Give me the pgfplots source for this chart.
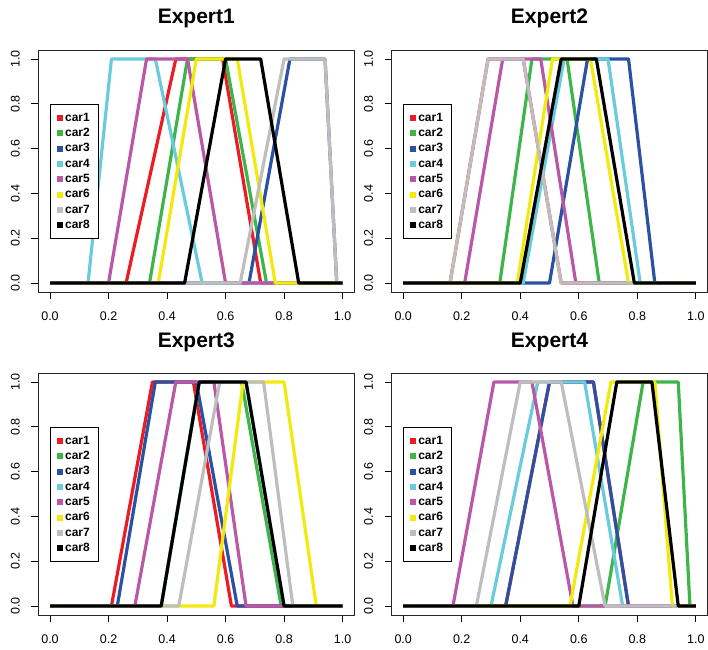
\documentclass[border=0pt]{standalone}
\usepackage{fontspec}
\setmainfont{Liberation Sans}
\usepackage{pgfplots}
\pgfplotsset{compat=1.18}

\definecolor{c1}{HTML}{EC1C24}
\definecolor{c2}{HTML}{3DB54A}
\definecolor{c3}{HTML}{2B51A3}
\definecolor{c4}{HTML}{6ACBDC}
\definecolor{c5}{HTML}{B958A6}
\definecolor{c6}{HTML}{F2EA0C}
\definecolor{c7}{HTML}{BEBEBE}
\definecolor{c8}{HTML}{000000}

\pgfplotsset{
  expert/.style={
    scale only axis, width=316pt, height=242pt, anchor=south west,
    xmin=-0.04, xmax=1.04, ymin=-0.04, ymax=1.04,
    xtick={0,0.2,0.4,0.6,0.8,1}, ytick={0,0.2,0.4,0.6,0.8,1},
    tick pos=left, tick align=outside, major tick length=7pt,
    tick style={black, line width=0.8pt},
    axis line style={black!85, line width=0.9pt},
    /pgf/number format/assume math mode=true,
    /pgf/number format/.cd, fixed, fixed zerofill, precision=1, /pgfplots/.cd,
    ticklabel style={font=\fontsize{12.5}{14}\selectfont},
    xticklabel style={inner sep=0.5pt},
    xticklabel shift=12.5pt,
    yticklabel style={rotate=90, anchor=south},
    yticklabel shift=8pt,
    title style={font=\bfseries\fontsize{21}{25}\selectfont, at={(0.5,1)}, anchor=base, yshift=20pt},
    every axis plot/.append style={line width=3.2pt, line join=round, no markers},
    legend image code/.code={\path[fill, draw=none] (0pt,-3pt) rectangle (6pt,3pt);},
    legend cell align=left,
    legend style={at={(axis cs:0,0.8)}, anchor=north west, draw=black,
      line width=1.2pt, font=\bfseries\fontsize{12}{14}\selectfont,
      inner xsep=6pt, inner ysep=6pt, row sep=0pt,
      nodes={inner ysep=2.4pt, inner xsep=2.5pt, text height=8.5pt, text depth=2pt}},
    legend entries={car1,car2,car3,car4,car5,car6,car7,car8},
  },
}

\begin{document}
\begin{tikzpicture}
\useasboundingbox (0,0) rectangle (708pt,649pt);

% Expert1
\begin{axis}[expert, at={(38.3pt,357pt)}, title={Expert1}]
\addplot[c1] coordinates {(0,0) (0.26,0) (0.43,1) (0.59,1) (0.72,0) (1,0)};
\addplot[c2] coordinates {(0,0) (0.34,0) (0.47,1) (0.60,1) (0.74,0) (1,0)};
\addplot[c3] coordinates {(0,0) (0.68,0) (0.82,1) (0.94,1) (0.98,0) (1,0)};
\addplot[c4] coordinates {(0,0) (0.13,0) (0.21,1) (0.36,1) (0.52,0) (1,0)};
\addplot[c5] coordinates {(0,0) (0.20,0) (0.33,1) (0.47,1) (0.60,0) (1,0)};
\addplot[c6] coordinates {(0,0) (0.37,0) (0.50,1) (0.64,1) (0.77,0) (1,0)};
\addplot[c7] coordinates {(0,0) (0.65,0) (0.80,1) (0.94,1) (0.98,0) (1,0)};
\addplot[c8] coordinates {(0,0) (0.46,0) (0.60,1) (0.72,1) (0.85,0) (1,0)};
\end{axis}

% Expert2
\begin{axis}[expert, at={(391.5pt,357pt)}, title={Expert2}]
\addplot[c1] coordinates {(0,0) (0.16,0) (0.29,1) (0.41,1) (0.54,0) (1,0)};
\addplot[c2] coordinates {(0,0) (0.33,0) (0.44,1) (0.56,1) (0.67,0) (1,0)};
\addplot[c3] coordinates {(0,0) (0.50,0) (0.63,1) (0.77,1) (0.86,0) (1,0)};
\addplot[c4] coordinates {(0,0) (0.41,0) (0.55,1) (0.70,1) (0.81,0) (1,0)};
\addplot[c5] coordinates {(0,0) (0.21,0) (0.34,1) (0.47,1) (0.59,0) (1,0)};
\addplot[c6] coordinates {(0,0) (0.39,0) (0.51,1) (0.64,1) (0.77,0) (1,0)};
\addplot[c7] coordinates {(0,0) (0.16,0) (0.29,1) (0.41,1) (0.54,0) (1,0)};
\addplot[c8] coordinates {(0,0) (0.40,0) (0.54,1) (0.66,1) (0.79,0) (1,0)};
\end{axis}

% Expert3
\begin{axis}[expert, at={(38.3pt,34pt)}, title={Expert3}]
\addplot[c1] coordinates {(0,0) (0.21,0) (0.35,1) (0.49,1) (0.62,0) (1,0)};
\addplot[c2] coordinates {(0,0) (0.38,0) (0.51,1) (0.655,1) (0.79,0) (1,0)};
\addplot[c3] coordinates {(0,0) (0.23,0) (0.36,1) (0.50,1) (0.64,0) (1,0)};
\addplot[c4] coordinates {(0,0) (0.38,0) (0.51,1) (0.67,1) (0.80,0) (1,0)};
\addplot[c5] coordinates {(0,0) (0.29,0) (0.43,1) (0.56,1) (0.67,0) (1,0)};
\addplot[c6] coordinates {(0,0) (0.56,0) (0.66,1) (0.80,1) (0.91,0) (1,0)};
\addplot[c7] coordinates {(0,0) (0.44,0) (0.58,1) (0.73,1) (0.83,0) (1,0)};
\addplot[c8] coordinates {(0,0) (0.38,0) (0.51,1) (0.67,1) (0.80,0) (1,0)};
\end{axis}

% Expert4
\begin{axis}[expert, at={(391.5pt,34pt)}, title={Expert4}]
\addplot[c1] coordinates {(0,0) (0.35,0) (0.50,1) (0.65,1) (0.77,0) (1,0)};
\addplot[c2] coordinates {(0,0) (0.69,0) (0.82,1) (0.94,1) (0.98,0) (1,0)};
\addplot[c3] coordinates {(0,0) (0.35,0) (0.50,1) (0.65,1) (0.77,0) (1,0)};
\addplot[c4] coordinates {(0,0) (0.30,0) (0.46,1) (0.62,1) (0.75,0) (1,0)};
\addplot[c5] coordinates {(0,0) (0.17,0) (0.31,1) (0.44,1) (0.58,0) (1,0)};
\addplot[c6] coordinates {(0,0) (0.57,0) (0.71,1) (0.86,1) (0.92,0) (1,0)};
\addplot[c7] coordinates {(0,0) (0.25,0) (0.40,1) (0.54,1) (0.69,0) (1,0)};
\addplot[c8] coordinates {(0,0) (0.60,0) (0.73,1) (0.85,1) (0.94,0) (1,0)};
\end{axis}
\end{tikzpicture}
\end{document}
